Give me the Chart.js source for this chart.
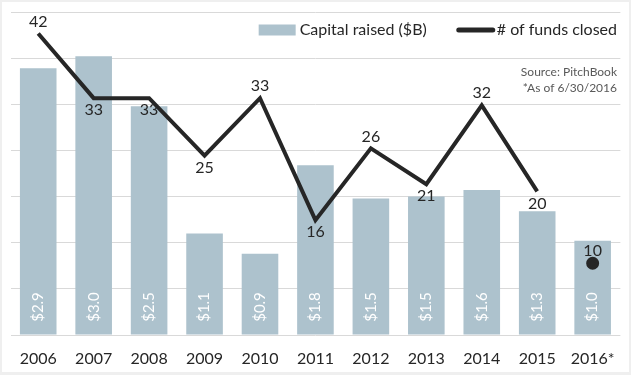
<!DOCTYPE html>
<html>
<head>
<meta charset="utf-8">
<script src="https://cdn.jsdelivr.net/npm/chart.js@4.4.0/dist/chart.umd.min.js"></script>
<style>
  body { margin: 0; background: #efefef; }
  #frame { position: absolute; left: 2px; top: 2px; width: 627px; height: 370px; background: #fff; }
</style>
</head>
<body>
<div id="frame"><canvas id="chart" width="627" height="370"></canvas></div>
<script>
const years = ['2006', '2007', '2008', '2009', '2010', '2011', '2012', '2013', '2014', '2015', '2016*'];
const capitalRaised = [2.89, 3.02, 2.48, 1.1, 0.88, 1.84, 1.48, 1.5, 1.57, 1.34, 1.02];
const fundsClosed = [42, 33, 33, 25, 33, 16, 26, 21, 32, 20, 10];
const capitalTicks = [0, 0.5, 1, 1.5, 2, 2.5, 3, 3.5];
const sourceLines = ['Source: PitchBook', '*As of 6/30/2016'];

const FONT = 'Lato, "Open Sans", sans-serif';
const BAR = '#adc2cd';
const INK = '#262626';

// where each count label sits relative to its point
const countLabelSide = ['up', 'down', 'down', 'down', 'up', 'down', 'up', 'down', 'up', 'down', 'up'];

const labelsPlugin = {
    id: 'labels',
    afterDatasetsDraw(chart) {
        const ctx = chart.ctx;
        const bottom = chart.chartArea.bottom;
        const barMeta = chart.getDatasetMeta(1);
        const lineMeta = chart.getDatasetMeta(0);

        // bar values, rotated inside the bars
        ctx.save();
        ctx.fillStyle = '#fff';
        ctx.font = '15px ' + FONT;
        ctx.textAlign = 'center';
        ctx.textBaseline = 'middle';
        barMeta.data.forEach((bar, i) => {
            ctx.save();
            ctx.translate(bar.x, bottom - 28);
            ctx.rotate(-Math.PI / 2);
            ctx.fillText('$' + capitalRaised[i].toFixed(1), 0, 0);
            ctx.restore();
        });

        // fund counts
        ctx.fillStyle = INK;
        ctx.font = '16px ' + FONT;
        lineMeta.data.forEach((pt, i) => {
            const dy = countLabelSide[i] === 'up' ? -12 : 12;
            ctx.fillText(String(fundsClosed[i]), pt.x, pt.y + dy);
        });
        ctx.restore();
    },
    afterDraw(chart) {
        const ctx = chart.ctx;
        const right = 615;
        const y = 28;
        ctx.save();
        ctx.font = '16px ' + FONT;
        ctx.textBaseline = 'middle';
        ctx.fillStyle = INK;

        const lineLabel = chart.data.datasets[0].label;
        const barLabel = chart.data.datasets[1].label;
        const x2 = right - ctx.measureText(lineLabel).width;
        ctx.fillText(lineLabel, x2, y);
        ctx.strokeStyle = INK;
        ctx.lineWidth = 5;
        ctx.lineCap = 'round';
        ctx.beginPath();
        ctx.moveTo(x2 - 38, y);
        ctx.lineTo(x2 - 4, y);
        ctx.stroke();

        const end1 = x2 - 40 - 30;
        const x1 = end1 - ctx.measureText(barLabel).width;
        ctx.fillText(barLabel, x1, y);
        ctx.fillStyle = BAR;
        ctx.fillRect(x1 - 41, y - 5.5, 37, 11);

        ctx.fillStyle = '#595959';
        ctx.font = '12px ' + FONT;
        ctx.textAlign = 'right';
        ctx.fillText(sourceLines[0], right, 70);
        ctx.fillText(sourceLines[1], right, 86);
        ctx.restore();
    }
};

new Chart(document.getElementById('chart'), {
    data: {
        labels: years,
        datasets: [
            {
                type: 'line',
                label: '# of funds closed',
                data: fundsClosed,
                yAxisID: 'y1',
                borderColor: INK,
                backgroundColor: INK,
                borderWidth: 4,
                tension: 0,
                pointRadius: c => c.dataIndex === fundsClosed.length - 1 ? 4.5 : 0,
                pointHoverRadius: 0,
                segment: { borderColor: c => c.p1DataIndex === fundsClosed.length - 1 ? 'transparent' : INK },
                order: 0
            },
            {
                type: 'bar',
                label: 'Capital raised ($B)',
                data: capitalRaised,
                yAxisID: 'y',
                backgroundColor: BAR,
                barPercentage: 0.66,
                categoryPercentage: 1,
                order: 1
            }
        ]
    },
    options: {
        responsive: false,
        animation: false,
        layout: { padding: { left: 5, right: 7, top: 10, bottom: 0 } },
        plugins: { legend: { display: false }, tooltip: { enabled: false } },
        scales: {
            x: {
                grid: { display: false, drawTicks: false },
                border: { display: false },
                ticks: { color: INK, font: { family: FONT, size: 16 }, padding: 14, maxRotation: 0 },
                afterFit: s => { s.height = 37; }
            },
            y: {
                min: 0, max: 3.5,
                afterBuildTicks: axis => { axis.ticks = capitalTicks.map(v => ({ value: v })); },
                grid: { color: '#d9d9d9', lineWidth: 1, drawTicks: false },
                border: { display: false },
                ticks: { display: false }
            },
            y1: {
                display: false,
                min: 0, max: 45
            }
        }
    },
    plugins: [labelsPlugin]
});
</script>
</body>
</html>
